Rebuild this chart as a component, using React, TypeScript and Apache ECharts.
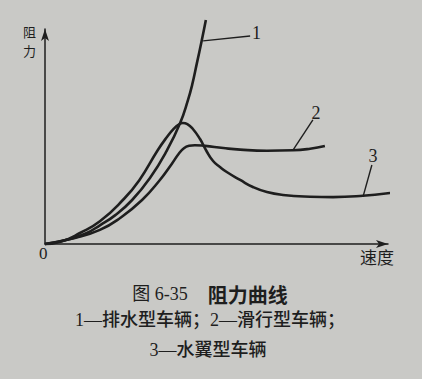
import React, { useEffect, useRef } from "react";
import * as echarts from "echarts";

// Curve 1 — displacement vehicle (排水型车辆)
const displacementCurve: [number, number][] = [
  [0, 0], [7.3, 2.3], [12.2, 5.0], [16.0, 8.5], [20.4, 13.0], [25.4, 20.0],
  [30.6, 30.0], [35.6, 42.7], [39.4, 55.0], [41.7, 65.5], [42.9, 72.3],
  [44.3, 82.3], [45.7, 92.5], [46.9, 101.8],
];
// Curve 2 — planing vehicle (滑行型车辆)
const planingCurve: [number, number][] = [
  [0, 0], [8.7, 2.7], [16.0, 6.4], [21.9, 11.8], [28.3, 20.0], [33.5, 29.1],
  [37.0, 36.5], [39.0, 41.0], [40.5, 43.5], [42.0, 44.6], [43.7, 44.9],
  [46.6, 44.6], [52.0, 43.6], [56.9, 42.9], [64.7, 42.4], [72.3, 42.6],
  [77.3, 43.3], [81.6, 44.5],
];
// Curve 3 — hydrofoil vehicle (水翼型车辆)
const hydrofoilCurve: [number, number][] = [
  [0, 0], [5.0, 1.3], [10.2, 5.0], [16.0, 10.3], [22.7, 20.0], [27.5, 29.0],
  [32.9, 42.7], [35.5, 48.5], [37.5, 52.3], [39.0, 54.3], [40.2, 55.0],
  [41.5, 54.5], [43.0, 52.5], [45.2, 47.7], [47.0, 42.5], [49.0, 37.7],
  [51.0, 35.0], [53.1, 32.6], [56.9, 29.1], [60.6, 25.9], [64.7, 23.6],
  [69.4, 22.3], [77.3, 21.5], [84.0, 21.3], [91.8, 21.8], [100.6, 23.2],
];
// Leader lines for the curve numbers
const leader1: [number, number][] = [[46.1, 92.3], [59.8, 94.5]];
const leader2: [number, number][] = [[72.3, 42.7], [78.1, 56.4]];
const leader3: [number, number][] = [[92.7, 21.4], [95.3, 35.9]];
const curveNumbers = ["1", "2", "3"];

const yAxisName = ["阻", "力"];
const xAxisName = "速度";
const originLabel = "0";
const captionTitle = ["图 6-35", "阻力曲线"];
const captionLine2 = "1—排水型车辆；2—滑行型车辆；";
const captionLine3 = "3—水翼型车辆";

const INK = "#1e1e1e";
const SERIF = '"Liberation Serif", "Noto Sans CJK SC", serif';
const CJK = '"Noto Sans CJK SC", sans-serif';

export default function App() {
  const ref = useRef<HTMLDivElement>(null);
  useEffect(() => {
    if (!ref.current) return;
    const chart = echarts.init(ref.current, undefined, { renderer: "svg" });
    const curveStyle = { color: INK, width: 2.6 };
    const curve = (data: [number, number][]) => ({
      type: "line",
      data,
      smooth: 0.5,
      showSymbol: false,
      symbol: "none",
      clip: false,
      silent: true,
      lineStyle: curveStyle,
    });
    const leaderSeries = (data: [number, number][], label: string, pos: any, offset: number[], dist: number) => ({
      type: "line",
      data,
      showSymbol: false,
      symbol: "none",
      clip: false,
      silent: true,
      lineStyle: { color: INK, width: 1.4 },
      markPoint: {
        symbol: "circle",
        symbolSize: 0,
        silent: true,
        data: [{ coord: data[1] }],
        label: {
          show: true,
          formatter: label,
          position: pos,
          distance: dist,
          offset,
          color: INK,
          fontFamily: SERIF,
          fontSize: 18,
        },
      },
    });
    chart.setOption({
      animation: false,
      backgroundColor: "#c9c9c6",
      grid: { left: 45, right: 34, top: 29, bottom: 135 },
      xAxis: {
        type: "value",
        min: 0,
        max: 100,
        axisLine: { show: true, symbol: ["none", "arrow"], symbolSize: [6, 12], lineStyle: { color: INK, width: 1.5 } },
        axisTick: { show: false },
        axisLabel: { show: false },
        splitLine: { show: false },
      },
      yAxis: {
        type: "value",
        min: 0,
        max: 97.7,
        axisLine: { show: true, symbol: ["none", "arrow"], symbolSize: [6, 12], lineStyle: { color: INK, width: 1.5 } },
        axisTick: { show: false },
        axisLabel: { show: false },
        splitLine: { show: false },
      },
      series: [
        curve(displacementCurve),
        curve(planingCurve),
        curve(hydrofoilCurve),
        leaderSeries(leader1, curveNumbers[0], "right", [0, -3], 2),
        leaderSeries(leader2, curveNumbers[1], "top", [3, 3], 1),
        leaderSeries(leader3, curveNumbers[2], "top", [1, 1], 1),
      ],
      graphic: [
        {
          type: "text",
          left: 23,
          top: 25,
          style: { text: yAxisName[0], fontFamily: CJK, fontSize: 13, lineHeight: 13, fill: INK },
        },
        {
          type: "text",
          left: 23,
          top: 44,
          style: { text: yAxisName[1], fontFamily: CJK, fontSize: 13, lineHeight: 13, fill: INK },
        },
        {
          type: "text",
          left: 360,
          top: 248,
          style: { text: xAxisName, fontFamily: CJK, fontSize: 17, fill: INK },
        },
        {
          type: "text",
          left: 39,
          top: 245,
          style: { text: originLabel, fontFamily: SERIF, fontSize: 17, fill: INK },
        },
        {
          type: "text",
          x: 210,
          y: 294,
          style: {
            text: `{a|${captionTitle[0]}}      {b|${captionTitle[1]}}`,
            align: "center",
            verticalAlign: "middle",
            fill: INK,
            rich: {
              a: { fontFamily: SERIF, fontSize: 18, fill: INK },
              b: { fontFamily: CJK, fontSize: 20, fontWeight: "bold", fill: INK },
            },
          },
        },
        {
          type: "text",
          x: 210,
          y: 320,
          style: { text: captionLine2, align: "center", verticalAlign: "middle", fontFamily: SERIF, fontSize: 18, fontWeight: 500, fill: INK },
        },
        {
          type: "text",
          x: 208,
          y: 350,
          style: { text: captionLine3, align: "center", verticalAlign: "middle", fontFamily: SERIF, fontSize: 18, fontWeight: 500, fill: INK },
        },
      ],
    });
    return () => chart.dispose();
  }, []);
  return <div ref={ref} style={{ position: "fixed", left: 0, top: 0, width: 422, height: 379 }} />;
}
